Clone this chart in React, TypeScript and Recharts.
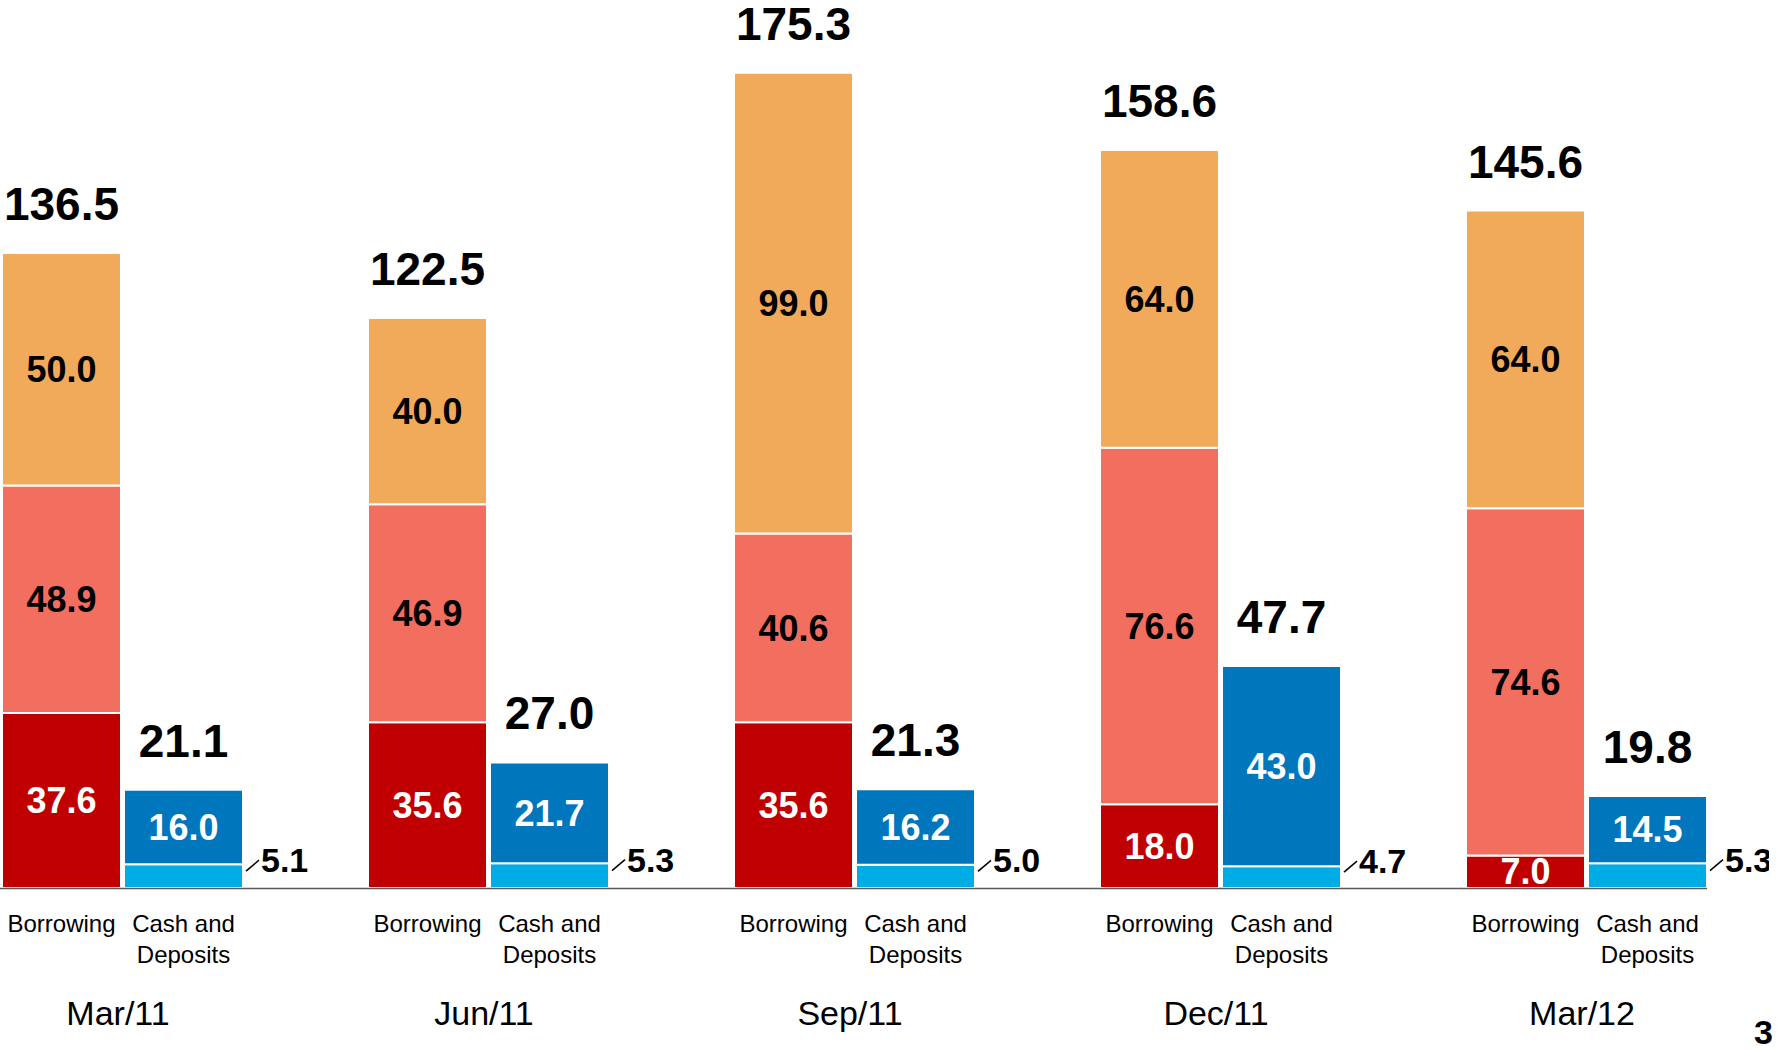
import React from "react"
import { BarChart, Bar, XAxis, YAxis, LabelList } from "recharts"

const periods = ["Mar/11", "Jun/11", "Sep/11", "Dec/11", "Mar/12"]
// borrowing stack (bottom to top)
const borrowingShort = [37.6, 35.6, 35.6, 18.0, 7.0]
const borrowingMid = [48.9, 46.9, 40.6, 76.6, 74.6]
const borrowingLong = [50.0, 40.0, 99.0, 64.0, 64.0]
const borrowingTotal = [136.5, 122.5, 175.3, 158.6, 145.6]
// cash and deposits stack (bottom to top)
const cashOther = [5.1, 5.3, 5.0, 4.7, 5.3]
const cashMain = [16.0, 21.7, 16.2, 43.0, 14.5]
const cashTotal = [21.1, 27.0, 21.3, 47.7, 19.8]

const FONT = "'Liberation Sans', Arial, sans-serif"
const CHART_W = 1830
const CHART_H = 1049
const BAND = CHART_W / periods.length

const data = periods.map((period, i) => ({
  period,
  bShort: borrowingShort[i],
  bMid: borrowingMid[i],
  bLong: borrowingLong[i],
  bTotal: borrowingTotal[i],
  cOther: cashOther[i],
  cMain: cashMain[i],
  cTotal: cashTotal[i],
}))

const fmt = (v: any) => Number(v).toFixed(1)

const box = (props: any) => {
  const vb = props.viewBox ?? props
  return { x: Number(vb.x), y: Number(vb.y), width: Number(vb.width), height: Number(vb.height) }
}

// small light-blue segment: value sits outside with a short leader line
const SmallValue = (props: any) => {
  const { x, y, width, height } = box(props)
  const rx = x + width
  const my = y + height / 2
  return (
    <g>
      <line x1={rx + 3} y1={my - 5} x2={rx + 16} y2={my - 16} stroke="#000" strokeWidth={1.5} />
      <text x={rx + 18} y={my - 4} fontFamily={FONT} fontWeight="bold" fontSize={34} fill="#000">
        {fmt(props.value)}
      </text>
    </g>
  )
}

const BorrowingLabel = (props: any) => {
  const { x, y, width, height } = box(props)
  return (
    <text x={x + width / 2} y={y + height + 44} textAnchor="middle" fontFamily={FONT} fontSize={24} fill="#000">
      Borrowing
    </text>
  )
}

const CashLabel = (props: any) => {
  const { x, y, width, height } = box(props)
  const base = y + height
  const cx = x + width / 2
  return (
    <g>
      <line x1={x + width - BAND} y1={base + 0.5} x2={x + width} y2={base + 0.5} stroke="#595959" strokeWidth={1.5} />
      <text x={cx} y={base + 44} textAnchor="middle" fontFamily={FONT} fontSize={24} fill="#000">
        Cash and
      </text>
      <text x={cx} y={base + 75} textAnchor="middle" fontFamily={FONT} fontSize={24} fill="#000">
        Deposits
      </text>
    </g>
  )
}

const MonthTick = (props: any) => {
  const { x, y, payload } = props
  return (
    <text x={x - 4} y={y} dy={129} textAnchor="middle" fontFamily={FONT} fontSize={34} fill="#000">
      {payload.value}
    </text>
  )
}

const inner = (fill: string) => ({ fontFamily: FONT, fontWeight: "bold", fontSize: 36, fill })
const totalStyle = { fontFamily: FONT, fontWeight: "bold", fontSize: 46, fill: "#000" }

export default function App() {
  return (
    <div
      style={{
        position: "absolute",
        left: 0,
        top: 0,
        width: 1777,
        height: 1049,
        overflow: "hidden",
        background: "#fff",
        fontFamily: FONT,
      }}
    >
      <div style={{ position: "absolute", left: -61, top: 0 }}>
        <BarChart
          width={CHART_W}
          height={CHART_H}
          data={data}
          margin={{ top: 4, right: 0, bottom: 0, left: 0 }}
          barSize={119}
          barGap={3}
        >
          <XAxis dataKey="period" axisLine={false} tickLine={false} height={161} tick={<MonthTick />} interval={0} />
          <YAxis hide domain={[0, 190]} />
          <Bar dataKey="bShort" stackId="b" fill="#C00000" stroke="#fff" strokeWidth={2} isAnimationActive={false}>
            <LabelList dataKey="bShort" position="center" formatter={fmt} style={inner("#fff")} />
            <LabelList dataKey="bShort" content={<BorrowingLabel />} />
          </Bar>
          <Bar dataKey="bMid" stackId="b" fill="#F26E5E" stroke="#fff" strokeWidth={2} isAnimationActive={false}>
            <LabelList dataKey="bMid" position="center" formatter={fmt} style={inner("#000")} />
          </Bar>
          <Bar dataKey="bLong" stackId="b" fill="#F0AA5A" stroke="#fff" strokeWidth={2} isAnimationActive={false}>
            <LabelList dataKey="bLong" position="center" formatter={fmt} style={inner("#000")} />
            <LabelList dataKey="bTotal" position="top" offset={33} formatter={fmt} style={totalStyle} />
          </Bar>
          <Bar dataKey="cOther" stackId="c" fill="#00ACE5" stroke="#fff" strokeWidth={2} isAnimationActive={false}>
            <LabelList dataKey="cOther" content={<SmallValue />} />
            <LabelList dataKey="cOther" content={<CashLabel />} />
          </Bar>
          <Bar dataKey="cMain" stackId="c" fill="#0077BD" stroke="#fff" strokeWidth={2} isAnimationActive={false}>
            <LabelList dataKey="cMain" position="center" formatter={fmt} style={inner("#fff")} />
            <LabelList dataKey="cTotal" position="top" offset={33} formatter={fmt} style={totalStyle} />
          </Bar>
        </BarChart>
      </div>
      <span
        style={{
          position: "absolute",
          left: 1754,
          top: 1012,
          fontFamily: FONT,
          fontWeight: "bold",
          fontSize: 34,
          lineHeight: "40px",
        }}
      >
        3
      </span>
    </div>
  )
}
